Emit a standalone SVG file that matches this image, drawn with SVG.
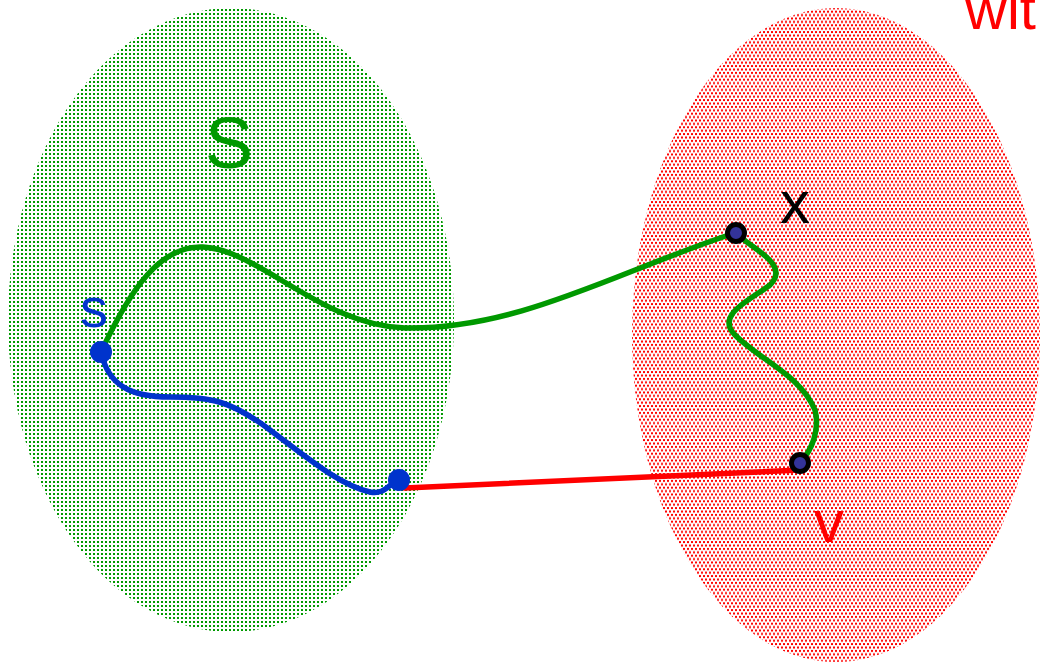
<svg xmlns="http://www.w3.org/2000/svg" width="1040" height="663" viewBox="0 0 1040 663">
<defs>
<pattern id="pg" width="4" height="4" patternUnits="userSpaceOnUse"><rect x="1" y="1" width="2" height="2" fill="#009900"/></pattern>
<pattern id="pr" width="4" height="6.8" patternUnits="userSpaceOnUse"><rect x="1" y="0.5" width="2" height="2" fill="#ff0000"/><rect x="3" y="3.9" width="2" height="2" fill="#ff0000"/><rect x="-1" y="3.9" width="2" height="2" fill="#ff0000"/></pattern>
<style>
.t{font-family:"Liberation Sans",Arial,sans-serif;}
.pt{stroke:#000;stroke-width:5;fill:#333399;}
</style>
</defs>
<rect width="1040" height="663" fill="#fff"/>
<g id="setS"><ellipse cx="231" cy="320" rx="223" ry="312" fill="url(#pg)"/></g>
<g id="setV"><ellipse cx="836" cy="335" rx="204" ry="327" fill="url(#pr)"/></g>
<g id="connectors" fill="none" stroke-linecap="round">
<path d="M101,352 C130,290 160,245 203,247 C260,250 320,325 405,328 C520,330 620,270 735,233" stroke="#009900" stroke-width="5.5"/>
<path d="M735,233 C755,250 790,265 770,285 C750,300 715,315 735,335 C760,360 800,375 815,410 C820,430 812,450 800,463" stroke="#009900" stroke-width="5.5"/>
<path d="M101,352 C108,385 130,397 170,397 C210,397 230,400 270,430 C310,460 340,485 370,492 C385,495 388,484 399,480" stroke="#0033cc" stroke-width="5.5"/>
<path d="M405,488 L800,470" stroke="#ff0000" stroke-width="5.5"/>
</g>
<g id="node-s"><circle cx="101" cy="352" r="11" fill="#0033cc"/><text class="t" x="94" y="327" font-size="56" fill="#0033cc" text-anchor="middle">s</text></g>
<g id="node-end"><circle cx="399" cy="480" r="11" fill="#0033cc"/></g>
<g id="node-x"><circle cx="736" cy="233" r="8.5" class="pt"/><text class="t" x="795" y="223" font-size="60" fill="#000" text-anchor="middle">x</text></g>
<g id="node-v"><circle cx="800" cy="463" r="8.5" class="pt"/><text class="t" x="829" y="542" font-size="60" fill="#ff0000" text-anchor="middle">v</text></g>
<g id="label-S"><text class="t" x="229" y="168" font-size="72" fill="#009900" text-anchor="middle">S</text></g>
<g id="label-wit"><text class="t" x="965" y="29" font-size="58" fill="#ff0000">wit</text></g>
</svg>
